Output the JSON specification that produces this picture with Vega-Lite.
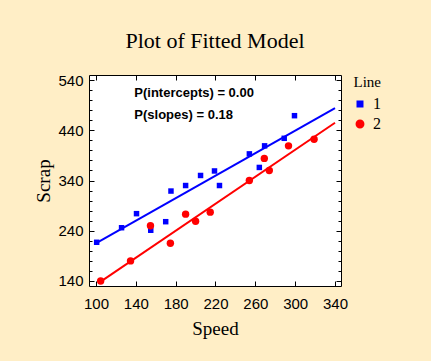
{
  "$schema": "https://vega.github.io/schema/vega-lite/v6.json",
  "width": 252,
  "height": 211,
  "autosize": {"type": "none"},
  "padding": {"left": 89, "top": 75, "right": 90, "bottom": 75},
  "background": "#FFEEC6",
  "title": {
    "text": "Plot of Fitted Model",
    "font": "Liberation Serif",
    "fontSize": 22,
    "fontWeight": "normal",
    "color": "black",
    "frame": "group",
    "anchor": "middle",
    "baseline": "alphabetic",
    "offset": 3
  },
  "config": {
    "view": {"stroke": "black", "strokeWidth": 1, "fill": "white"},
    "axis": {
      "domain": false,
      "grid": false,
      "tickColor": "black",
      "labelColor": "black",
      "titleColor": "black",
      "labelFont": "Liberation Sans",
      "labelFontSize": 15,
      "titleFont": "Liberation Serif",
      "titleFontSize": 19,
      "titleFontWeight": "normal"
    }
  },
  "datasets": {
    "points": [
      {"Speed": 100.7, "Scrap": 217, "Line": "1"},
      {"Speed": 125.7, "Scrap": 246, "Line": "1"},
      {"Speed": 140.7, "Scrap": 274, "Line": "1"},
      {"Speed": 155, "Scrap": 241, "Line": "1"},
      {"Speed": 170, "Scrap": 258, "Line": "1"},
      {"Speed": 175.3, "Scrap": 319, "Line": "1"},
      {"Speed": 190, "Scrap": 330, "Line": "1"},
      {"Speed": 205, "Scrap": 350, "Line": "1"},
      {"Speed": 219, "Scrap": 359, "Line": "1"},
      {"Speed": 224, "Scrap": 330, "Line": "1"},
      {"Speed": 254, "Scrap": 393, "Line": "1"},
      {"Speed": 264, "Scrap": 366, "Line": "1"},
      {"Speed": 269.3, "Scrap": 409, "Line": "1"},
      {"Speed": 289, "Scrap": 424, "Line": "1"},
      {"Speed": 299.3, "Scrap": 469, "Line": "1"},
      {"Speed": 104.7, "Scrap": 140, "Line": "2"},
      {"Speed": 134.7, "Scrap": 180, "Line": "2"},
      {"Speed": 154.7, "Scrap": 250, "Line": "2"},
      {"Speed": 174.7, "Scrap": 215, "Line": "2"},
      {"Speed": 190, "Scrap": 273, "Line": "2"},
      {"Speed": 200, "Scrap": 259, "Line": "2"},
      {"Speed": 214.7, "Scrap": 277, "Line": "2"},
      {"Speed": 254, "Scrap": 340, "Line": "2"},
      {"Speed": 269, "Scrap": 384, "Line": "2"},
      {"Speed": 274, "Scrap": 360, "Line": "2"},
      {"Speed": 293.3, "Scrap": 409, "Line": "2"},
      {"Speed": 319, "Scrap": 422, "Line": "2"}
    ],
    "fits": [
      {"Speed": 100.7, "Scrap": 216, "Line": "1"},
      {"Speed": 340, "Scrap": 484, "Line": "1"},
      {"Speed": 104.7, "Scrap": 138.6, "Line": "2"},
      {"Speed": 340, "Scrap": 455, "Line": "2"}
    ],
    "one": [{}]
  },
  "layer": [
    {
      "data": {"name": "fits"},
      "mark": {"type": "line", "strokeWidth": 2, "clip": true},
      "encoding": {
        "x": {
          "field": "Speed", "type": "quantitative",
          "scale": {"domain": [93, 346], "nice": false, "zero": false},
          "axis": {"orient": "top", "values": [100, 140, 180, 220, 260, 300, 340], "labels": false, "tickSize": -5, "title": null}
        },
        "y": {
          "field": "Scrap", "type": "quantitative",
          "scale": {"domain": [130, 550], "nice": false, "zero": false},
          "axis": {"orient": "right", "values": [140, 160, 180, 200, 220, 240, 260, 280, 300, 320, 340, 360, 380, 400, 420, 440, 460, 480, 500, 520, 540], "labels": false,
                   "tickSize": {"condition": {"test": "datum.value % 100 == 40", "value": -5}, "value": -3}, "title": null}
        },
        "color": {
          "field": "Line", "type": "nominal",
          "scale": {"domain": ["1", "2"], "range": ["#0000FF", "#FF0000"]}
        },
        "detail": {"field": "Line"}
      }
    },
    {
      "data": {"name": "points"},
      "mark": {"type": "point", "filled": true, "opacity": 1, "strokeWidth": 0},
      "encoding": {
        "x": {
          "field": "Speed", "type": "quantitative",
          "axis": {"orient": "bottom", "values": [100, 140, 180, 220, 260, 300, 340], "ticks": false, "labelPadding": 10, "title": "Speed", "titlePadding": 8}
        },
        "y": {
          "field": "Scrap", "type": "quantitative",
          "axis": {"orient": "left", "values": [140, 240, 340, 440, 540], "ticks": false, "labelPadding": 6, "title": "Scrap", "titlePadding": 4}
        },
        "color": {
          "field": "Line", "type": "nominal",
          "scale": {"domain": ["1", "2"], "range": ["#0000FF", "#FF0000"]},
          "legend": {
            "title": "Line",
            "orient": "right",
            "offset": 10,
            "titleFont": "Liberation Serif",
            "titleFontSize": 15,
            "titleFontWeight": "normal",
            "titleColor": "black",
            "titleAnchor": "end",
            "titlePadding": 6,
            "labelFont": "Liberation Serif",
            "labelFontSize": 16,
            "labelColor": "black",
            "rowPadding": 4,
            "labelOffset": 5
          }
        },
        "shape": {
          "field": "Line", "type": "nominal",
          "scale": {"domain": ["1", "2"], "range": ["square", "circle"]},
          "legend": {"title": "Line"}
        },
        "size": {
          "field": "Line", "type": "nominal",
          "scale": {"domain": ["1", "2"], "range": [30, 55]},
          "legend": null
        }
      }
    },
    {
      "data": {"name": "one"},
      "mark": {"type": "text", "text": "P(intercepts) = 0.00", "align": "left", "baseline": "middle", "font": "Liberation Sans", "fontSize": 13, "fontWeight": "bold", "color": "black"},
      "encoding": {
        "x": {
          "datum": 138.5, "type": "quantitative",
          "axis": {"orient": "bottom", "values": [100, 140, 180, 220, 260, 300, 340], "labels": false, "tickSize": -5, "title": null}
        },
        "y": {
          "datum": 514, "type": "quantitative",
          "axis": {"orient": "left", "values": [140, 160, 180, 200, 220, 240, 260, 280, 300, 320, 340, 360, 380, 400, 420, 440, 460, 480, 500, 520, 540], "labels": false,
                   "tickSize": {"condition": {"test": "datum.value % 100 == 40", "value": -5}, "value": -3}, "title": null}
        }
      }
    },
    {
      "data": {"name": "one"},
      "mark": {"type": "text", "text": "P(slopes) = 0.18", "align": "left", "baseline": "middle", "font": "Liberation Sans", "fontSize": 13, "fontWeight": "bold", "color": "black"},
      "encoding": {
        "x": {"datum": 138.5, "type": "quantitative", "axis": null},
        "y": {"datum": 470, "type": "quantitative", "axis": null}
      }
    }
  ]
}
